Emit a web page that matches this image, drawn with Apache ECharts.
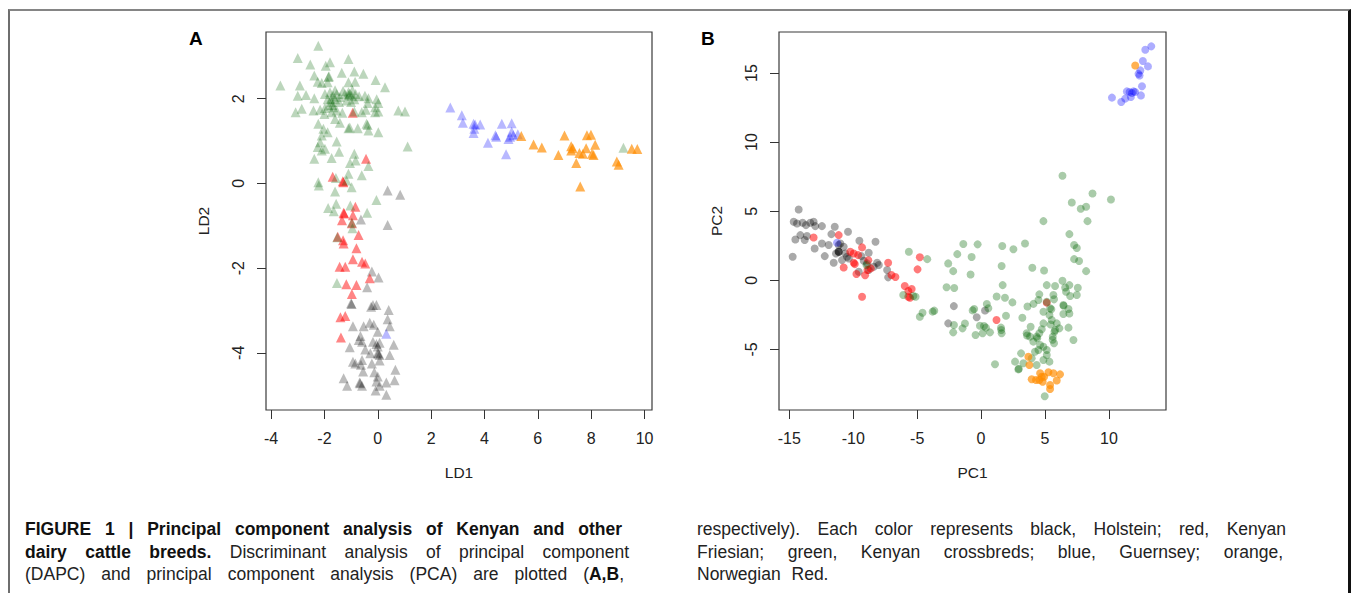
<!DOCTYPE html>
<html>
<head>
<meta charset="utf-8">
<script src="https://cdn.jsdelivr.net/npm/echarts@6/dist/echarts.min.js"></script>
<style>
  html, body { margin: 0; padding: 0; background: #fff; }
  #wrap { position: relative; width: 1355px; height: 593px; overflow: hidden; }
  #chart { position: absolute; left: 0; top: 0; width: 1355px; height: 593px; }
  #frame { position: absolute; left: 8px; top: 9px; width: 1343px; height: 600px;
           border-top: 2px solid #858585; border-left: 2px solid #6e6e6e; border-right: 3px solid #111; box-sizing: border-box; pointer-events: none; }
  .cap { position: absolute; font-family: "Liberation Sans Narrow", "Arial Narrow", "Liberation Sans", sans-serif;
         font-size: 17.5px; line-height: 22.5px; color: #222; white-space: nowrap; }
  .j { text-align: justify; text-align-last: justify; white-space: normal; }
  .b { font-weight: bold; color: #111; }
</style>
</head>
<body>
<div id="wrap">
  <div id="chart"></div>
  <div id="frame"></div>
  <div class="cap j b" style="left:25px; top:518px; width:597px;">FIGURE 1 | Principal component analysis of Kenyan and other</div>
  <div class="cap j" style="left:25px; top:540.5px; width:604px;"><span class="b">dairy cattle breeds.</span> Discriminant analysis of principal component</div>
  <div class="cap j" style="left:25px; top:563px; width:599px;">(DAPC) and principal component analysis (PCA) are plotted (<span class="b">A,B</span>,</div>
  <div class="cap j" style="left:697px; top:518px; width:589px;">respectively). Each color represents black, Holstein; red, Kenyan</div>
  <div class="cap j" style="left:697px; top:540.5px; width:586px;">Friesian; green, Kenyan crossbreds; blue, Guernsey; orange,</div>
  <div class="cap" style="left:697px; top:563px; word-spacing:6px;">Norwegian Red.</div>
</div>
<script>
// ---------- Tick labels ----------
var ldXTicks = [-4, -2, 0, 2, 4, 6, 8, 10];
var ldYTicks = [-4, -2, 0, 2];
var pcXTicks = [-15, -10, -5, 0, 5, 10];
var pcYTicks = [-5, 0, 5, 10, 15];

// ---------- Panel A (DAPC: LD1, LD2) ----------
var ldBlack = [
  [0.37,-0.17],[0.84,-0.27],[-0.63,-0.85],[0.37,-0.98],[-0.22,-2.08],[0.03,-2.22],[-0.40,-2.45],
  [-1.00,-2.83],[-0.98,-2.85],[-0.25,-2.91],[-0.18,-2.87],[-0.05,-2.87],[0.41,-2.99],[0.37,-3.21],[0.45,-3.37],
  [-0.93,-3.37],[-0.53,-3.37],[-0.30,-3.29],[-0.15,-3.34],[0.00,-3.50],[-0.65,-3.60],[-0.71,-3.70],[-0.59,-3.74],
  [-0.18,-3.74],[-0.05,-3.79],[0.07,-3.76],[0.00,-3.85],[0.60,-3.81],[-1.05,-3.87],[-0.47,-3.92],[-0.28,-4.01],
  [0.00,-4.00],[0.07,-4.05],[0.02,-4.02],[0.45,-4.05],[-0.93,-4.21],[-0.84,-4.25],[-0.59,-4.17],[-0.63,-4.28],
  [-0.22,-4.25],[0.07,-4.18],[-0.55,-4.44],[-0.13,-4.46],[0.00,-4.56],[-0.05,-4.68],[0.66,-4.40],[-1.28,-4.60],
  [-1.15,-4.78],[-0.68,-4.70],[-0.66,-4.72],[-0.59,-4.78],[-0.08,-4.89],[0.07,-4.78],[0.32,-4.70],[0.63,-4.65],[0.32,-4.99]
];
var ldRed = [
  [-0.94,1.67],[-0.44,0.58],[-1.69,0.16],[-1.29,0.03],[-1.31,0.05],
  [-0.84,-0.55],[-1.28,-0.69],[-1.26,-0.71],[-0.93,-0.75],[-1.34,-0.87],[-0.97,-0.94],[-1.50,-1.26],[-1.30,-1.34],
  [-1.28,-1.42],[-0.72,-1.22],[-0.80,-1.53],[-0.93,-1.79],[-1.43,-1.97],[-1.22,-1.97],[-0.59,-1.85],[-0.47,-1.89],
  [-0.30,-2.24],[-1.18,-2.38],[-0.80,-2.40],[-0.97,-2.61],[-1.40,-3.16],[-1.22,-3.13],[-1.38,-3.64]
];
var ldGreen = [
  [-2.23,3.25],[-3.00,2.96],[-2.53,2.81],[-1.95,2.78],[-1.79,2.86],[-1.10,2.94],
  [-2.38,2.55],[-1.85,2.51],[-1.83,2.53],[-2.25,2.40],[-2.10,2.37],[-1.35,2.61],[-0.88,2.64],[-0.54,2.59],[-0.08,2.44],[0.27,2.27],
  [-3.65,2.31],[-2.92,2.31],[-1.88,2.39],[-1.10,2.39],[-0.85,2.40],
  [-3.00,2.07],[-2.69,2.09],[-2.38,2.01],
  [-1.98,2.11],[-1.79,2.15],[-1.67,2.07],[-1.54,2.11],[-1.88,1.99],[-1.73,1.92],[-1.60,1.99],[-1.42,2.04],[-1.23,2.11],
  [-1.10,2.15],[-0.98,2.07],[-0.83,2.11],[-0.70,2.06],[-1.17,1.96],[-1.00,1.92],[-0.88,1.99],[-0.48,2.07],[-0.35,2.01],
  [-0.38,1.90],[-0.04,1.99],[0.02,1.90],[-0.10,1.80],[-1.45,1.92],[-1.67,1.80],[-1.85,1.84],[-1.98,1.78],
  [-1.10,2.08],[-1.05,2.12],[-1.75,2.00],[-1.70,1.85],[-1.30,2.18],[-0.95,2.20],[-1.60,2.20],
  [-3.08,1.68],[-2.85,1.76],[-2.41,1.72],[-2.16,1.74],[-2.00,1.64],[-1.73,1.68],[-1.54,1.72],[-1.33,1.67],[-0.88,1.70],
  [-0.60,1.68],[-0.45,1.74],[-0.10,1.68],[0.02,1.70],[0.77,1.72],[1.02,1.70],
  [-2.23,1.41],[-2.04,1.29],[-1.88,1.21],[-2.10,1.13],[-1.60,1.52],[-1.42,1.43],[-1.10,1.30],[-1.05,1.32],[-0.75,1.30],
  [-0.42,1.41],[-0.35,1.25],[-0.38,1.38],[0.02,1.21],[-1.54,0.99],[-2.16,0.97],[-2.25,0.86],[-2.10,0.78],[-1.98,0.82],
  [1.12,0.87],[-2.38,0.58],[-1.73,0.60],[-1.45,0.75],[-0.88,0.70],[-0.83,0.54],[-0.35,0.41],[-1.04,0.48],[-0.60,0.19],
  [-1.10,0.23],[-1.57,0.13],[-1.17,0.07],[-0.98,-0.09],[-1.60,-0.19],[-2.23,0.03],[-2.21,-0.05],
  [-0.05,-0.39],[-1.56,-0.48],[-1.86,-0.58],[-1.65,-0.66],[-1.03,-0.52],[-0.40,-0.69],[-0.97,-0.92],[-0.95,-1.06],
  [-1.52,-1.27],[-1.53,-2.35],[9.21,0.84]
];
var ldBlue = [
  [2.72,1.79],[3.15,1.61],[3.19,1.43],[3.59,1.41],[3.65,1.39],[3.62,1.29],[3.84,1.39],[3.59,1.19],[4.13,0.96],
  [4.41,1.14],[4.44,1.10],[4.65,1.41],[4.81,0.69],[4.90,1.05],[4.96,1.10],[5.02,1.42],[5.02,1.22],[5.08,1.14],
  [5.25,1.16],[0.32,-3.55]
];
var ldOrange = [
  [5.38,1.12],[5.84,0.92],[6.15,0.85],[6.77,0.67],[7.00,1.13],[7.25,0.88],[7.25,0.78],[7.31,0.83],[7.56,0.72],
  [7.44,0.48],[7.59,-0.07],[7.69,0.70],[7.81,0.83],[7.84,1.14],[7.99,1.15],[8.03,0.70],[8.09,0.67],[8.15,0.91],
  [8.96,0.52],[9.03,0.44],[9.52,0.82],[9.73,0.81]
];

// ---------- Panel B (PCA: PC1, PC2) ----------
var pcBlack = [
  [-14.27,5.12],[-14.66,4.23],[-14.40,4.11],[-13.96,4.16],[-13.70,3.99],[-13.36,4.16],[-13.10,4.23],[-12.97,3.92],
  [-12.45,3.92],[-14.14,3.27],[-14.53,2.95],[-13.80,2.91],[-13.62,3.20],[-13.02,2.30],[-12.45,2.66],[-14.74,1.70],
  [-11.71,3.34],[-11.45,3.87],[-10.41,3.51],[-11.92,2.55],[-12.23,1.75],[-11.53,1.27],[-11.14,2.06],[-11.12,2.04],
  [-11.16,2.08],[-11.35,1.94],[-11.01,2.66],[-10.75,2.42],[-10.62,1.94],[-10.35,1.58],[-10.88,1.46],[-10.49,1.70],
  [-11.14,2.55],[-9.52,2.86],[-8.26,2.79],[-8.79,1.99],[-9.36,1.75],[-9.18,1.41],[-8.92,1.22],[-8.40,0.98],
  [-8.13,1.27],[-8.00,1.10],[-9.57,0.62],[-8.79,0.74],[-7.35,0.74],[-7.27,0.21],
  [-2.13,-1.87],[0.31,-2.19],[-0.34,-2.68],[-2.57,-3.12]
];
var pcRed = [
  [-13.10,3.10],[-11.14,3.27],[-9.31,2.38],[-10.23,2.06],[-9.96,1.94],[-9.62,1.82],[-9.96,1.27],[-9.88,1.17],
  [-10.75,0.93],[-8.82,1.45],[-8.89,0.74],[-8.63,0.86],[-9.75,0.45],[-9.07,0.36],[-7.27,1.27],[-7.01,0.38],
  [-6.70,0.24],[-9.31,-1.19],[-5.97,-0.41],[-5.69,-0.78],[-5.43,-0.63],[-5.56,-1.26],[-5.69,-1.19],[-4.79,1.67],
  [-4.97,0.79],[5.14,-1.62],[1.21,-2.88]
];
var pcGreen = [
  [-8.97,1.10],[-5.65,2.06],[-4.21,1.53],[-6.09,-1.07],[-5.30,-1.14],[-5.12,-1.19],
  [6.37,7.56],[8.72,6.28],[10.16,5.85],[7.10,5.63],[7.80,5.18],[8.22,5.32],[4.88,4.28],[8.33,4.28],[6.91,3.34],
  [7.28,2.55],[7.49,2.33],[7.28,1.53],[7.67,1.39],[8.22,0.66],
  [-1.39,2.62],[-0.27,2.60],[-1.86,1.89],[-0.74,1.68],[-2.57,1.22],[-2.18,0.66],[-0.82,0.42],[1.66,2.48],[2.53,2.25],
  [3.44,2.66],[1.61,1.03],[4.01,0.91],[4.93,0.71],
  [-2.70,-0.51],[-2.10,-0.56],[-4.58,-2.35],[-4.79,-2.64],[-3.79,-2.27],[-3.66,-2.20],
  [1.69,-0.35],[1.22,-1.18],[1.87,-1.26],[2.45,-1.60],[3.63,-1.90],[4.10,-1.71],[-0.54,-2.08],[-0.66,-2.18],[0.45,-1.72],
  [0.57,-2.03],[1.95,-2.57],[3.23,-2.71],
  [-1.26,-3.13],[-1.45,-3.48],[-2.12,-3.24],[-2.18,-3.77],[-0.43,-3.96],[0.12,-3.84],[0.23,-3.31],[0.70,-3.77],
  [0.38,-3.43],[-0.09,-3.29],[1.56,-3.43],[1.61,-3.84],[1.58,-3.60],
  [5.14,-0.35],[5.79,-0.42],[6.37,-0.03],[6.58,-0.52],[6.91,-0.35],[7.57,-0.54],[7.49,-1.07],[6.97,-1.14],[6.65,-0.83],
  [4.56,-1.02],[4.49,-1.43],[5.14,-1.55],[5.66,-1.07],[5.71,-1.38],[6.44,-1.79],[6.46,-1.85],[6.84,-2.08],[4.88,-2.28],
  [5.40,-2.03],[5.35,-2.52],[5.53,-2.88],[5.92,-3.12],[6.13,-3.48],[6.44,-2.44],[6.91,-2.40],[6.84,-3.43],[7.23,-4.32],
  [5.74,-3.72],[5.61,-4.08],[5.71,-4.56],[3.57,-3.84],[3.83,-4.08],[4.09,-4.44],[4.35,-4.08],[4.62,-4.69],[4.49,-5.05],
  [4.88,-4.81],[5.14,-5.05],[5.14,-5.41],[4.22,-5.17],[3.88,-3.36],[4.88,-3.12],[4.75,-3.55],[4.56,-3.84],[3.13,-5.29],
  [2.66,-5.89],[2.92,-6.45],[2.95,-6.40],[3.31,-6.01],[3.96,-5.65],[4.35,-6.13],[4.88,-5.77],[5.35,-5.89],[1.09,-6.08],
  [4.98,-8.40],[5.50,-2.10],[5.45,-3.20],[5.80,-3.60],[4.40,-4.20],[3.60,-4.00],[5.60,-4.30]
];
var pcBlue = [
  [10.24,13.22],[10.97,12.90],[11.28,13.15],[11.41,13.67],[11.62,13.63],[11.80,13.55],[11.93,13.67],[12.06,13.63],
  [11.72,13.26],[12.51,13.38],[12.59,14.04],[12.32,14.94],[12.46,15.19],[12.40,14.82],[12.66,15.87],[13.06,15.48],
  [12.85,16.69],[13.32,16.93],[-11.27,2.71]
];
var pcOrange = [
  [12.06,15.55],[3.96,-7.17],[4.30,-7.22],[4.62,-6.73],[4.75,-6.98],[4.56,-7.22],[4.93,-6.98],[4.82,-7.34],
  [5.27,-6.66],[5.66,-6.73],[6.18,-6.81],[5.92,-7.26],[5.40,-7.58],[5.40,-7.87],[3.70,-5.53],[3.78,-6.13]
];

var FONT = '"Liberation Sans", Arial, sans-serif';
var labelStyle = { fontFamily: FONT, fontSize: 16, color: '#222' };

function xAxis(gridIndex, min, max, ticks, name) {
  return {
    type: 'value', gridIndex: gridIndex, min: min, max: max,
    name: name, nameLocation: 'middle', nameGap: 54,
    nameTextStyle: { fontFamily: FONT, fontSize: 15.5, color: '#222' },
    axisLine: { show: false, onZero: false },
    splitLine: { show: false },
    axisTick: { show: true, length: 9, inside: false, customValues: ticks, lineStyle: { color: '#333', width: 1 } },
    axisLabel: Object.assign({ margin: 20, customValues: ticks }, labelStyle)
  };
}
function yAxis(gridIndex, min, max, ticks, name) {
  return {
    type: 'value', gridIndex: gridIndex, min: min, max: max,
    name: name, nameLocation: 'middle', nameGap: 55, nameRotate: 90,
    nameTextStyle: { fontFamily: FONT, fontSize: 15.5, color: '#222' },
    axisLine: { show: false, onZero: false },
    splitLine: { show: false },
    axisTick: { show: true, length: 9, inside: false, customValues: ticks, lineStyle: { color: '#333', width: 1 } },
    axisLabel: Object.assign({ margin: 20, rotate: 90, customValues: ticks }, labelStyle)
  };
}
function sc(data, xi, color, symbol, size) {
  return {
    type: 'scatter', xAxisIndex: xi, yAxisIndex: xi, data: data,
    symbol: symbol, symbolSize: size, silent: true,
    itemStyle: { color: color, borderWidth: 0 }
  };
}

var chart = echarts.init(document.getElementById('chart'), null, { renderer: 'svg' });
chart.setOption({
  animation: false,
  backgroundColor: 'transparent',
  title: [
    { text: 'A', left: 189, top: 29, padding: 0, textStyle: { fontFamily: FONT, fontSize: 19, fontWeight: 'bold', color: '#000' } },
    { text: 'B', left: 701, top: 29, padding: 0, textStyle: { fontFamily: FONT, fontSize: 19, fontWeight: 'bold', color: '#000' } }
  ],
  grid: [
    { left: 266, top: 32, width: 386, height: 378, show: true, borderColor: '#3a3a3a', borderWidth: 1.2, backgroundColor: 'transparent' },
    { left: 779, top: 32, width: 387, height: 378, show: true, borderColor: '#3a3a3a', borderWidth: 1.2, backgroundColor: 'transparent' }
  ],
  xAxis: [
    xAxis(0, -4.19, 10.28, ldXTicks, 'LD1'),
    xAxis(1, -15.81, 14.47, pcXTicks, 'PC1')
  ],
  yAxis: [
    yAxis(0, -5.35, 3.575, ldYTicks, 'LD2'),
    yAxis(1, -9.39, 17.97, pcYTicks, 'PC2')
  ],
  series: [
    sc(ldBlack, 0, 'rgba(0,0,0,0.33)', 'triangle', 10),
    sc(ldRed, 0, 'rgba(255,0,0,0.6)', 'triangle', 10),
    sc(ldGreen, 0, 'rgba(0,100,0,0.33)', 'triangle', 10),
    sc(ldBlue, 0, 'rgba(0,0,255,0.35)', 'triangle', 10),
    sc(ldOrange, 0, 'rgba(255,140,0,0.85)', 'triangle', 10),
    sc(pcBlack, 1, 'rgba(0,0,0,0.42)', 'circle', 8),
    sc(pcRed, 1, 'rgba(255,0,0,0.65)', 'circle', 8),
    sc(pcGreen, 1, 'rgba(0,100,0,0.42)', 'circle', 8),
    sc(pcBlue, 1, 'rgba(0,0,255,0.4)', 'circle', 8),
    sc(pcOrange, 1, 'rgba(255,140,0,0.85)', 'circle', 8)
  ]
});
</script>
</body>
</html>
